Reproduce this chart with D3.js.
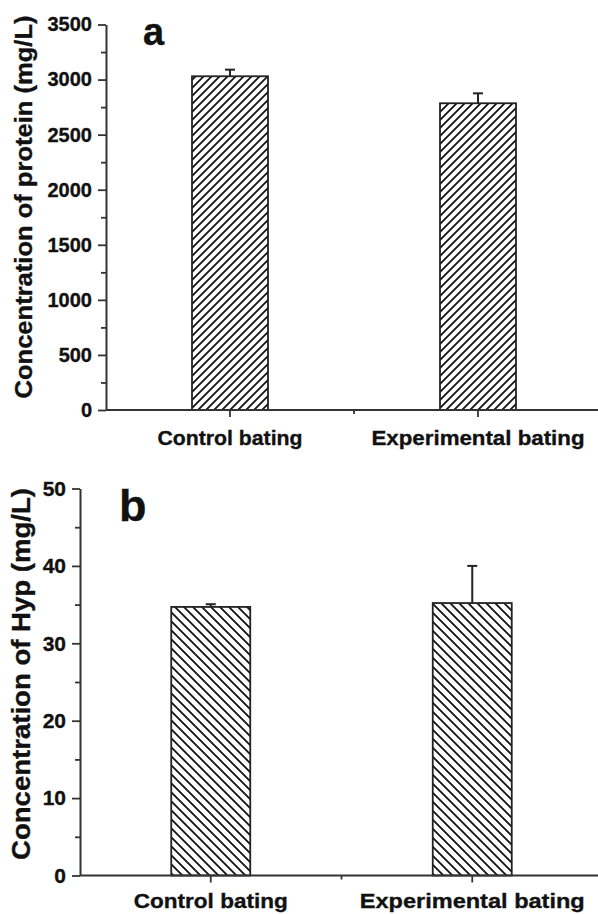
<!DOCTYPE html>
<html>
<head>
<meta charset="utf-8">
<script src="https://cdn.jsdelivr.net/npm/d3@7"></script>
<style>
  body { margin: 0; background: #fff; }
  text { font-family: "Liberation Sans", Arial, sans-serif; font-weight: bold; fill: #111; stroke: #111; stroke-width: 0.35px; }
</style>
</head>
<body>
<svg id="chart" width="598" height="914"></svg>
<script>
// data
var categories = ["Control bating", "Experimental bating"];
var proteinMean = [3030, 2785];
var proteinErr = [60, 90];
var proteinTicks = [0, 500, 1000, 1500, 2000, 2500, 3000, 3500];
var hypMean = [34.7, 35.2];
var hypErr = [0.35, 4.8];
var hypTicks = [0, 10, 20, 30, 40, 50];

var svg = d3.select('#chart');
var defs = svg.append('defs');

// hatch patterns: "/" for panel a, "\" for panel b
function hatch(id, size, forward) {
  var p = defs.append('pattern')
    .attr('id', id)
    .attr('patternUnits', 'userSpaceOnUse')
    .attr('width', size)
    .attr('height', size);
  var s = size;
  var d = forward
    ? 'M0,' + s + ' L' + s + ',0 M-2,2 L2,-2 M' + (s - 2) + ',' + (s + 2) + ' L' + (s + 2) + ',' + (s - 2)
    : 'M0,0 L' + s + ',' + s + ' M-2,' + (s - 2) + ' L2,' + (s + 2) + ' M' + (s - 2) + ',-2 L' + (s + 2) + ',2';
  p.append('path').attr('d', d).attr('stroke', '#111').attr('stroke-width', 1.8);
}
hatch('hatchA', 8, true);
hatch('hatchB', 9, false);

function panel(o) {
  var g = svg.append('g');
  var y = d3.scaleLinear().domain([0, o.max]).range([o.y0, o.y1]);
  var x = d3.scalePoint().domain(categories).range([o.x0, o.x1]).padding(0.5);

  // bars
  g.selectAll('rect.bar')
    .data(o.mean)
    .enter()
    .append('rect')
    .attr('class', 'bar')
    .attr('x', function (d, i) { return x(categories[i]) - o.barW / 2; })
    .attr('y', function (d) { return y(d); })
    .attr('width', o.barW)
    .attr('height', function (d) { return y(0) - y(d); })
    .attr('fill', 'url(#' + o.pattern + ')')
    .attr('stroke', '#222')
    .attr('stroke-width', 1.8);

  // error bars (upper half only)
  o.mean.forEach(function (m, i) {
    var cx = x(categories[i]);
    g.append('line')
      .attr('x1', cx).attr('x2', cx)
      .attr('y1', y(m)).attr('y2', y(m + o.err[i]))
      .attr('stroke', '#222').attr('stroke-width', 2);
    g.append('line')
      .attr('x1', cx - o.cap).attr('x2', cx + o.cap)
      .attr('y1', y(m + o.err[i])).attr('y2', y(m + o.err[i]))
      .attr('stroke', '#222').attr('stroke-width', 2);
  });

  // y axis, minor then major
  var minor = [];
  for (var i = 0; i < o.ticks.length - 1; i++) minor.push((o.ticks[i] + o.ticks[i + 1]) / 2);
  g.append('g')
    .attr('transform', 'translate(' + o.x0 + ',0)')
    .call(d3.axisLeft(y).tickValues(minor).tickSize(5).tickFormat(''))
    .call(function (a) { a.select('.domain').remove(); a.selectAll('line').attr('stroke', '#333').attr('stroke-width', 1.8); });
  var ya = g.append('g')
    .attr('transform', 'translate(' + o.x0 + ',0)')
    .call(d3.axisLeft(y).tickValues(o.ticks).tickSize(8).tickSizeOuter(0).tickPadding(6).tickFormat(d3.format('d')));
  ya.select('.domain').attr('stroke', '#333').attr('stroke-width', 2);
  ya.selectAll('line').attr('stroke', '#333').attr('stroke-width', 1.8);
  ya.selectAll('text').attr('font-size', o.tickFont + 'px').attr('font-family', '"Liberation Sans", Arial, sans-serif').attr('fill', '#111');

  // x axis line reaching the right edge
  g.append('line')
    .attr('x1', o.x0).attr('x2', 598)
    .attr('y1', y(0)).attr('y2', y(0))
    .attr('stroke', '#333').attr('stroke-width', 2);
  var xt = categories.map(function (c) { return x(c); });
  g.selectAll('line.xt')
    .data(xt)
    .enter()
    .append('line')
    .attr('class', 'xt')
    .attr('x1', function (d) { return d; }).attr('x2', function (d) { return d; })
    .attr('y1', y(0)).attr('y2', y(0) + 7)
    .attr('stroke', '#333').attr('stroke-width', 1.8);
  g.append('line')
    .attr('x1', (xt[0] + xt[1]) / 2).attr('x2', (xt[0] + xt[1]) / 2)
    .attr('y1', y(0)).attr('y2', y(0) + 4)
    .attr('stroke', '#333').attr('stroke-width', 1.8);

  // category labels
  categories.forEach(function (c, i) {
    g.append('text')
      .attr('x', x(c))
      .attr('y', o.labelY)
      .attr('text-anchor', 'middle')
      .attr('font-size', o.labelFont + 'px')
      .attr('textLength', o.labelW[i])
      .attr('lengthAdjust', 'spacingAndGlyphs')
      .text(c);
  });

  // y title
  g.append('text')
    .attr('transform', 'translate(' + o.titleX + ',' + o.titleY + ') rotate(-90)')
    .attr('text-anchor', 'middle')
    .attr('font-size', o.titleFont + 'px')
    .attr('textLength', o.titleW)
    .attr('lengthAdjust', 'spacingAndGlyphs')
    .text(o.title);

  // panel letter
  g.append('text')
    .attr('x', o.letterX)
    .attr('y', o.letterY)
    .attr('font-size', o.letterFont + 'px')
    .text(o.letter);
}

panel({
  mean: proteinMean, err: proteinErr, ticks: proteinTicks, max: 3500,
  x0: 106, x1: 602, y0: 410, y1: 24.5, barW: 76, cap: 5, pattern: 'hatchA',
  tickFont: 20, labelFont: 21, labelY: 445, labelW: [145, 213],
  title: 'Concentration of protein (mg/L)', titleX: 32, titleY: 207, titleFont: 24, titleW: 383,
  letter: 'a', letterX: 143, letterY: 45, letterFont: 38
});

panel({
  mean: hypMean, err: hypErr, ticks: hypTicks, max: 50,
  x0: 80, x1: 603, y0: 875.5, y1: 488.5, barW: 79, cap: 5, pattern: 'hatchB',
  tickFont: 21, labelFont: 21, labelY: 908, labelW: [154, 225],
  title: 'Concentration of Hyp (mg/L)', titleX: 30, titleY: 674, titleFont: 25, titleW: 372,
  letter: 'b', letterX: 119, letterY: 521, letterFont: 45
});
</script>
</body>
</html>
